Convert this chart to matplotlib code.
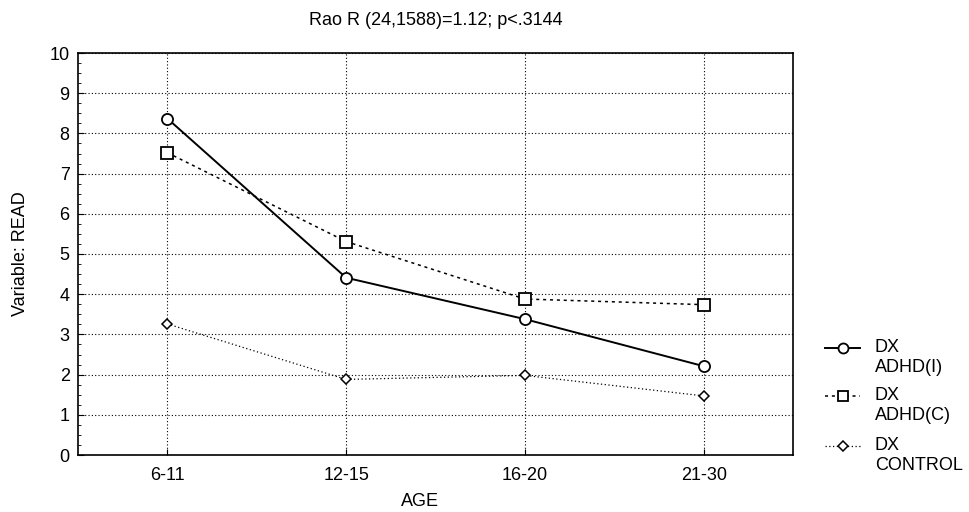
import matplotlib
matplotlib.use('Agg')
import matplotlib.pyplot as plt
from matplotlib.lines import Line2D
from matplotlib.ticker import AutoMinorLocator

plt.rcParams['font.family'] = ['Liberation Sans', 'DejaVu Sans']

ages = ['6-11', '12-15', '16-20', '21-30']
adhd_i = [8.37, 4.41, 3.38, 2.21]
adhd_c = [7.52, 5.31, 3.88, 3.74]
control = [3.26, 1.88, 1.98, 1.47]
labels = ['DX\nADHD(I)', 'DX\nADHD(C)', 'DX\nCONTROL']

W, H = 970, 512
fig = plt.figure(figsize=(W / 100, H / 100), dpi=100)
ax = fig.add_axes([78 / W, 1 - 455 / H, 715 / W, 402 / H])

styles = [
    dict(linestyle='-', lw=1.4, marker='o', ms=8, mew=1.3),
    dict(linestyle=(0, (2, 2.5)), lw=1.1, marker='s', ms=8, mew=1.3),
    dict(linestyle=(0, (1, 2)), lw=0.9, marker='D', ms=5.5, mew=1.1),
]

x = range(len(ages))
for ys, st in zip([adhd_i, adhd_c, control], styles):
    ax.plot(x, ys, color='black', mfc='white', mec='black', **st)

ax.set_xlim(-0.5, 3.5)
ax.set_ylim(0, 10)
ax.set_xticks(list(x))
ax.set_xticklabels(ages)
ax.set_yticks(range(11))
ax.yaxis.set_minor_locator(AutoMinorLocator(4))
ax.tick_params(axis='both', which='major', labelsize=13, direction='in', length=4)
ax.tick_params(axis='y', which='minor', direction='in', length=2)
ax.tick_params(axis='x', pad=9)
ax.tick_params(axis='y', pad=6)
ax.grid(True, linestyle=(0, (1, 2)), color='black', lw=0.8)
for s in ax.spines.values():
    s.set_linewidth(1.2)

ax.set_title('Rao R (24,1588)=1.12; p<.3144', fontsize=13, pad=20)
ax.set_ylabel('Variable: READ', fontsize=13)
ax.yaxis.set_label_coords(-0.068, 0.5)
ax.set_xlabel('AGE', fontsize=13)
ax.xaxis.set_label_coords(0.478, -0.095)

# legend drawn by hand so the key sits on the first line of each label
rows = [348, 396, 446]
for lab, st, yp in zip(labels, styles, rows):
    yf = 1 - yp / H
    fig.add_artist(Line2D([825 / W, 860 / W], [yf, yf], color='black',
                          linestyle=st['linestyle'], lw=st['lw']))
    fig.add_artist(Line2D([843 / W], [yf], color='black', linestyle='none',
                          marker=st['marker'], ms=st['ms'] * 0.9, mfc='white',
                          mec='black', mew=st['mew']))
    fig.text(875 / W, yf + 9 / H, lab, fontsize=13, va='top', ha='left',
             linespacing=1.2)

fig.savefig('out.png', dpi=100)
